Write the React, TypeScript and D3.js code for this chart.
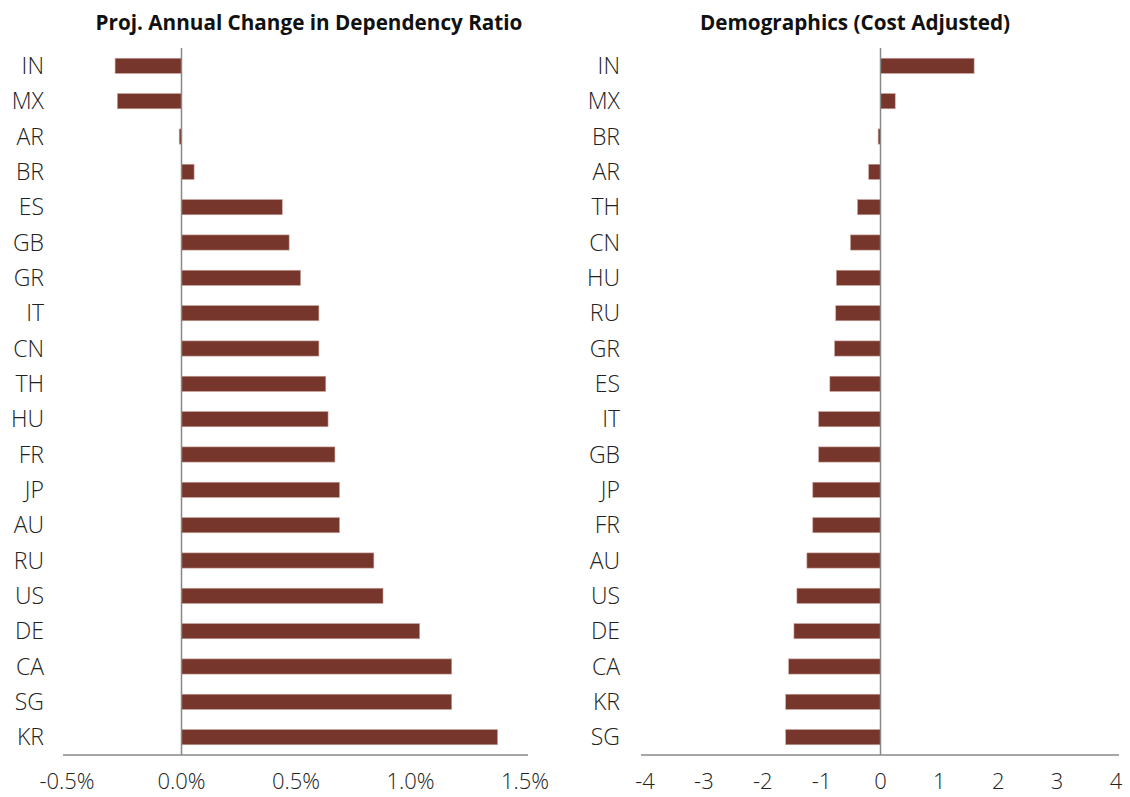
import * as d3 from 'd3';
import React, { useEffect, useRef } from 'react';

const width = 1130;
const height = 797;

// left panel: projected annual change in dependency ratio (%)
const leftCountries = ['IN', 'MX', 'AR', 'BR', 'ES', 'GB', 'GR', 'IT', 'CN', 'TH', 'HU', 'FR', 'JP', 'AU', 'RU', 'US', 'DE', 'CA', 'SG', 'KR'];
const leftValues = [-0.29, -0.28, -0.01, 0.055, 0.44, 0.47, 0.52, 0.6, 0.6, 0.63, 0.64, 0.67, 0.69, 0.69, 0.84, 0.88, 1.04, 1.18, 1.18, 1.38];
const leftTicks = [-0.5, 0, 0.5, 1.0, 1.5];

// right panel: demographics (cost adjusted)
const rightCountries = ['IN', 'MX', 'BR', 'AR', 'TH', 'CN', 'HU', 'RU', 'GR', 'ES', 'IT', 'GB', 'JP', 'FR', 'AU', 'US', 'DE', 'CA', 'KR', 'SG'];
const rightValues = [1.59, 0.25, -0.04, -0.2, -0.39, -0.51, -0.75, -0.76, -0.78, -0.86, -1.05, -1.05, -1.15, -1.15, -1.25, -1.42, -1.47, -1.56, -1.61, -1.61];
const rightTicks = [-4, -3, -2, -1, 0, 1, 2, 3, 4];

const font = "'Open Sans', sans-serif";
const barColor = '#76362b';

function drawPanel(svg, opts) {
    const { title, cats, vals, ticks, x0, x1, labelX, titleX, fmt } = opts;
    const top = 48, bottom = 755;

    const x = d3.scaleLinear().domain([ticks[0], ticks[ticks.length - 1]]).range([x0, x1]);
    const y = d3.scaleBand().domain(cats).range([top, bottom]).paddingInner(0.57).paddingOuter(0.29);

    const g = svg.append('g');

    g.append('text')
        .attr('x', titleX)
        .attr('y', 30)
        .attr('text-anchor', 'middle')
        .style('font-family', font)
        .style('font-weight', 700)
        .style('font-size', '20.7px')
        .attr('fill', '#111')
        .text(title);

    // bars
    g.selectAll('rect.bar')
        .data(vals)
        .enter()
        .append('rect')
        .attr('class', 'bar')
        .attr('x', d => x(Math.min(0, d)))
        .attr('y', (d, i) => y(cats[i]))
        .attr('width', d => Math.abs(x(d) - x(0)))
        .attr('height', y.bandwidth())
        .attr('fill', barColor)
        .attr('stroke', '#c9a49c')
        .attr('stroke-width', 0.6);

    // category labels
    g.selectAll('text.cat')
        .data(cats)
        .enter()
        .append('text')
        .attr('class', 'cat')
        .attr('x', labelX)
        .attr('y', d => y(d) + y.bandwidth() / 2)
        .attr('dy', '0.36em')
        .attr('text-anchor', 'end')
        .style('font-family', font)
        .style('font-weight', 300)
        .style('font-size', '23px')
        .attr('fill', '#222')
        .text(d => d);

    // zero line
    g.append('line')
        .attr('x1', x(0)).attr('x2', x(0))
        .attr('y1', top).attr('y2', bottom)
        .attr('stroke', '#888').attr('stroke-width', 1.5);

    // bottom axis line
    g.append('line')
        .attr('x1', x0 - 4).attr('x2', x1 + 3)
        .attr('y1', bottom).attr('y2', bottom)
        .attr('stroke', '#888').attr('stroke-width', 1.5);

    g.selectAll('text.tick')
        .data(ticks)
        .enter()
        .append('text')
        .attr('class', 'tick')
        .attr('x', d => x(d))
        .attr('y', 789)
        .attr('text-anchor', 'middle')
        .style('font-family', font)
        .style('font-weight', 300)
        .style('font-size', '22px')
        .attr('fill', '#222')
        .text(fmt);
}

export default function App() {
    const ref = useRef(null);

    useEffect(() => {
        const svg = d3.select(ref.current);
        svg.selectAll('*').remove();

        drawPanel(svg, {
            title: 'Proj. Annual Change in Dependency Ratio',
            cats: leftCountries,
            vals: leftValues,
            ticks: leftTicks,
            x0: 67, x1: 525,
            labelX: 44,
            titleX: 309,
            fmt: d => d.toFixed(1) + '%'
        });

        drawPanel(svg, {
            title: 'Demographics (Cost Adjusted)',
            cats: rightCountries,
            vals: rightValues,
            ticks: rightTicks,
            x0: 645, x1: 1116,
            labelX: 620,
            titleX: 855,
            fmt: d => String(d)
        });
    }, []);

    return (
        <svg
            ref={ref}
            width={width}
            height={height}
            style={{ position: 'absolute', left: 0, top: 0, background: '#fff' }}
        />
    );
}
